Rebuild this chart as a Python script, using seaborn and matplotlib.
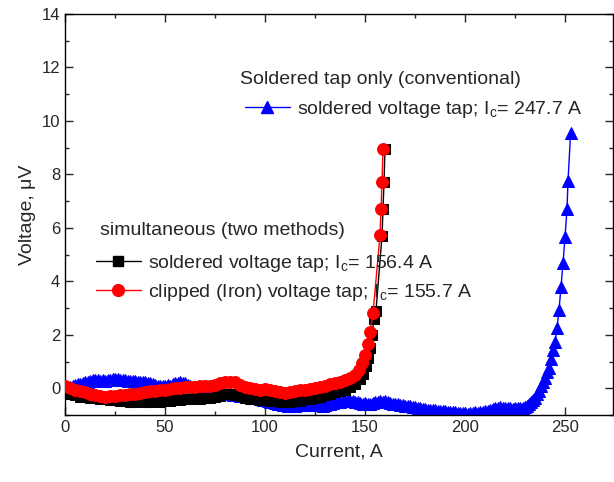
import matplotlib
matplotlib.use("Agg")
import matplotlib.pyplot as plt
import pandas as pd
import seaborn as sns
from matplotlib.lines import Line2D
from matplotlib.ticker import MultipleLocator

# simultaneous measurement, soldered tap (black squares)
black_current = [0, 2.5, 5, 7.5, 10, 12.5, 15, 17.5, 20, 22.5, 25, 27.5, 30, 32.5, 35, 37.5,
                 40, 42.5, 45, 47.5, 50, 52.5, 55, 57.5, 60, 62.5, 65, 67.5, 70, 72.5, 75, 77.5,
                 80, 82.5, 85, 87.5, 90, 92.5, 95, 97.5, 100, 102.5, 105, 107.5, 110, 112.5, 115,
                 117.5, 120, 122.5, 125, 127.5, 130, 132.5, 135, 137.5, 140, 142.5, 145, 147.5,
                 149, 150.5, 151.5, 152.5, 153.5, 154.5, 155.5, 158.5, 159, 159.5, 160]
black_voltage = [-0.05, -0.22, -0.25, -0.32, -0.3, -0.37, -0.35, -0.4, -0.4, -0.43, -0.42, -0.47,
                 -0.45, -0.52, -0.5, -0.48, -0.52, -0.5, -0.47, -0.5, -0.45, -0.47, -0.42, -0.45,
                 -0.4, -0.42, -0.38, -0.4, -0.35, -0.37, -0.33, -0.28, -0.22, -0.2, -0.25, -0.3,
                 -0.35, -0.39, -0.4, -0.43, -0.42, -0.46, -0.45, -0.5, -0.5, -0.52, -0.48, -0.46,
                 -0.42, -0.41, -0.35, -0.31, -0.25, -0.21, -0.15, -0.11, -0.05, 0.04, 0.15, 0.35,
                 0.55, 0.85, 1.15, 1.5, 2.0, 2.6, 2.9, 5.7, 6.7, 7.7, 8.95]

# simultaneous measurement, clipped (iron) tap (red circles)
red_current = [0, 2.5, 5, 7.5, 10, 12.5, 15, 17.5, 20, 22.5, 25, 27.5, 30, 32.5, 35, 37.5,
               40, 42.5, 45, 47.5, 50, 52.5, 55, 57.5, 60, 62.5, 65, 67.5, 70, 72.5, 75, 77.5,
               80, 82.5, 85, 87.5, 90, 92.5, 95, 97.5, 100, 102.5, 105, 107.5, 110, 112.5, 115,
               117.5, 120, 122.5, 125, 127.5, 130, 132.5, 135, 137.5, 140, 142.5, 145, 147,
               148.5, 150, 151.5, 152.5, 154, 157.5, 158, 158.5, 159]
red_voltage = [0.1, 0.0, -0.05, -0.1, -0.15, -0.2, -0.25, -0.3, -0.33, -0.3, -0.28, -0.25,
               -0.25, -0.22, -0.2, -0.18, -0.15, -0.12, -0.1, -0.08, -0.05, -0.02, 0.0, 0.02,
               0.03, 0.05, 0.05, 0.08, 0.1, 0.1, 0.12, 0.18, 0.22, 0.25, 0.22, 0.12, 0.05, 0.0,
               -0.02, -0.05, -0.02, -0.08, -0.12, -0.15, -0.18, -0.15, -0.1, -0.08, -0.05,
               -0.02, 0.0, 0.05, 0.1, 0.15, 0.2, 0.25, 0.3, 0.4, 0.5, 0.7, 0.95, 1.25, 1.65,
               2.1, 2.8, 5.73, 6.7, 7.7, 8.95]

# conventional soldered tap only (blue triangles)
blue_current = [0, 1.25, 2.5, 3.75, 5, 6.25, 7.5, 8.75, 10, 11.25, 12.5, 13.75, 15, 16.25,
                17.5, 18.75, 20, 21.25, 22.5, 23.75, 25, 26.25, 27.5, 28.75, 30, 31.25, 32.5,
                33.75, 35, 36.25, 37.5, 38.75, 40, 41.25, 42.5, 43.75, 45, 46.25, 47.5, 48.75,
                50, 51.25, 52.5, 53.75, 55, 56.25, 57.5, 58.75, 60, 61.25, 62.5, 63.75, 65,
                66.25, 67.5, 68.75, 70, 71.25, 72.5, 73.75, 75, 76.25, 77.5, 78.75, 80, 81.25,
                82.5, 83.75, 85, 86.25, 87.5, 88.75, 90, 91.25, 92.5, 93.75, 95, 96.25, 97.5,
                98.75, 100, 101.25, 102.5, 103.75, 105, 106.25, 107.5, 108.75, 110, 111.25,
                112.5, 113.75, 115, 116.25, 117.5, 118.75, 120, 121.25, 122.5, 123.75, 125,
                126.25, 127.5, 128.75, 130, 131.25, 132.5, 133.75, 135, 136.25, 137.5, 138.75,
                140, 141.25, 142.5, 143.75, 145, 146.25, 147.5, 148.75, 150, 151.25, 152.5,
                153.75, 155, 156.25, 157.5, 158.75, 160, 161.25, 162.5, 163.75, 165, 166.25,
                167.5, 168.75, 170, 171.25, 172.5, 173.75, 175, 176.25, 177.5, 178.75, 180,
                181.25, 182.5, 183.75, 185, 186.25, 187.5, 188.75, 190, 191.25, 192.5, 193.75,
                195, 196.25, 197.5, 198.75, 200, 201.25, 202.5, 203.75, 205, 206.25, 207.5,
                208.75, 210, 211.25, 212.5, 213.75, 215, 216.25, 217.5, 218.75, 220, 221.25,
                222.5, 223.75, 225, 226.25, 227.5, 228.75, 230, 231, 232, 233, 234, 235, 236,
                237, 238, 239, 240, 241, 242, 243, 244, 245, 246, 247, 248, 249, 250, 251,
                251.5, 252.8]
blue_voltage = [0.0, 0.02, 0.05, 0.1, 0.12, 0.15, 0.17, 0.2, 0.22, 0.25, 0.28, 0.3, 0.32,
                0.3, 0.28, 0.3, 0.27, 0.3, 0.32, 0.35, 0.33, 0.36, 0.32, 0.3, 0.31, 0.28, 0.29,
                0.26, 0.27, 0.24, 0.25, 0.22, 0.23, 0.2, 0.18, 0.15, 0.13, 0.1, 0.1, 0.08, 0.1,
                0.12, 0.1, 0.15, 0.18, 0.2, 0.23, 0.2, 0.18, 0.12, 0.08, 0.03, 0.0, -0.03,
                -0.05, -0.08, -0.1, -0.12, -0.13, -0.15, -0.15, -0.18, -0.18, -0.2, -0.2,
                -0.22, -0.23, -0.25, -0.25, -0.27, -0.28, -0.3, -0.3, -0.32, -0.33, -0.35,
                -0.36, -0.38, -0.4, -0.43, -0.45, -0.48, -0.5, -0.53, -0.55, -0.57, -0.6,
                -0.61, -0.62, -0.65, -0.63, -0.66, -0.65, -0.62, -0.64, -0.6, -0.62, -0.6,
                -0.63, -0.61, -0.64, -0.6, -0.63, -0.65, -0.62, -0.6, -0.57, -0.55, -0.53,
                -0.5, -0.5, -0.47, -0.48, -0.45, -0.46, -0.48, -0.5, -0.53, -0.55, -0.57,
                -0.56, -0.6, -0.58, -0.55, -0.52, -0.5, -0.47, -0.5, -0.48, -0.52, -0.55,
                -0.57, -0.58, -0.6, -0.62, -0.63, -0.65, -0.67, -0.68, -0.7, -0.7, -0.72,
                -0.74, -0.76, -0.78, -0.8, -0.8, -0.82, -0.82, -0.84, -0.85, -0.86, -0.86,
                -0.88, -0.88, -0.9, -0.9, -0.92, -0.92, -0.94, -0.93, -0.95, -0.92, -0.93,
                -0.9, -0.91, -0.88, -0.87, -0.85, -0.84, -0.82, -0.78, -0.75, -0.72, -0.7,
                -0.73, -0.72, -0.75, -0.74, -0.76, -0.75, -0.73, -0.72, -0.74, -0.7, -0.65,
                -0.6, -0.52, -0.45, -0.35, -0.22, -0.1, 0.1, 0.25, 0.4, 0.6, 0.75, 1.09, 1.42,
                1.72, 2.25, 2.92, 3.78, 4.68, 5.66, 6.7, 7.75, 9.55]

legend1_title = "Soldered tap only (conventional)"
legend1_label = r"soldered voltage tap; I$_\mathrm{c}$= 247.7 A"
legend2_title = "simultaneous (two methods)"
legend2_labels = [r"soldered voltage tap; I$_\mathrm{c}$= 156.4 A",
                  r"clipped (Iron) voltage tap; I$_\mathrm{c}$= 155.7 A"]

sns.set_style("ticks")
plt.rcParams["font.family"] = ["Liberation Sans", "DejaVu Sans"]
plt.rcParams["mathtext.fontset"] = "custom"
plt.rcParams["mathtext.rm"] = "Liberation Sans"

fig = plt.figure(figsize=(6.14, 4.82), dpi=100)
ax = fig.add_axes([65 / 614, 1 - 415 / 482, 548 / 614, 401 / 482])

blue_df = pd.DataFrame({"current": blue_current, "voltage": blue_voltage})
black_df = pd.DataFrame({"current": black_current, "voltage": black_voltage})
red_df = pd.DataFrame({"current": red_current, "voltage": red_voltage})

sns.lineplot(data=blue_df, x="current", y="voltage", sort=False, ax=ax, color="blue",
             marker="^", markersize=9, markeredgecolor="blue", linewidth=1, zorder=2)
sns.lineplot(data=black_df, x="current", y="voltage", sort=False, ax=ax, color="black",
             marker="s", markersize=7, markeredgecolor="black", linewidth=1, zorder=3)
sns.lineplot(data=red_df, x="current", y="voltage", sort=False, ax=ax, color="red",
             marker="o", markersize=8.5, markeredgecolor="red", linewidth=1, zorder=4)

ax.set_xlim(0, 274)
ax.set_ylim(-1, 14)
ax.xaxis.set_major_locator(MultipleLocator(50))
ax.xaxis.set_minor_locator(MultipleLocator(25))
ax.yaxis.set_major_locator(MultipleLocator(2))
ax.yaxis.set_minor_locator(MultipleLocator(1))
ax.tick_params(which="both", direction="in", top=True, right=True, labelsize=12, width=1)
ax.tick_params(which="major", length=6)
ax.tick_params(which="minor", length=3)
for spine in ax.spines.values():
    spine.set_linewidth(1)
    spine.set_color("black")

ax.set_xlabel("Current, A", fontsize=14, labelpad=6)
ax.set_ylabel("Voltage, \u03bcV", fontsize=14, labelpad=4)

h_blue = Line2D([], [], color="blue", marker="^", markersize=9, linewidth=1)
h_black = Line2D([], [], color="black", marker="s", markersize=7, linewidth=1)
h_red = Line2D([], [], color="red", marker="o", markersize=8.5, linewidth=1)

# legend titles as plain text, legends below them
fig.text(240 / 614, 1 - 80 / 482, legend1_title, fontsize=14, va="center", ha="left")
fig.text(100 / 614, 1 - 230 / 482, legend2_title, fontsize=14, va="center", ha="left")

leg1 = ax.legend([h_blue], [legend1_label], loc="center left",
                 bbox_to_anchor=(245 / 614, 1 - 109 / 482), bbox_transform=fig.transFigure,
                 frameon=False, fontsize=14, handlelength=2.3, handletextpad=0.35,
                 borderpad=0, borderaxespad=0)
ax.add_artist(leg1)
ax.legend([h_black, h_red], legend2_labels, loc="center left",
          bbox_to_anchor=(96 / 614, 1 - 278 / 482), bbox_transform=fig.transFigure,
          frameon=False, fontsize=14, handlelength=2.3, handletextpad=0.35,
          labelspacing=0.4, borderpad=0, borderaxespad=0)

fig.savefig("out.png", dpi=100)
